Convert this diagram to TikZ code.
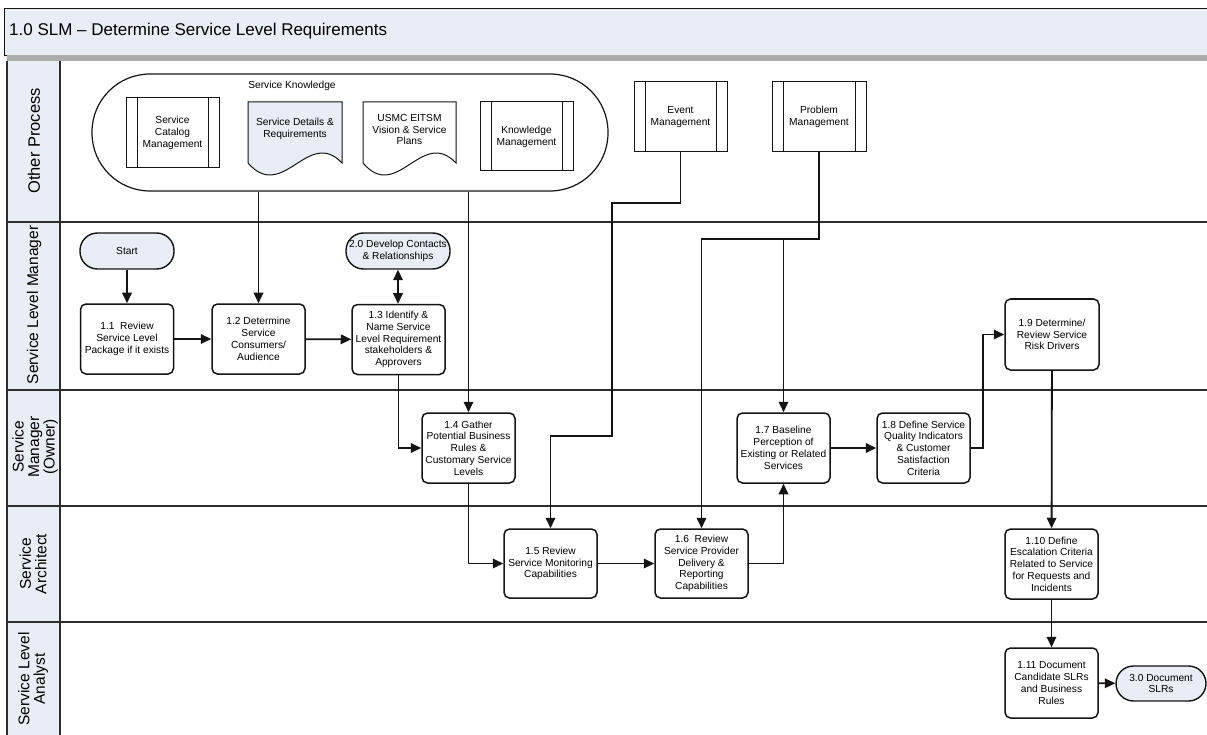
\documentclass[tikz,border=0pt]{standalone}
\usepackage{fontspec}
\setmainfont{Liberation Sans}
\usetikzlibrary{arrows.meta,calc}
\definecolor{paneblue}{RGB}{232,237,246}
\definecolor{inkline}{RGB}{20,20,20}
\definecolor{lanerulecol}{RGB}{45,45,45}

\begin{document}
\begin{tikzpicture}[x=1pt,y=-1pt,
  boxfont/.style={font=\fontsize{10.2}{11.8}\selectfont},
  task/.style={draw=inkline, line width=1.5pt, rounded corners=5.5pt, fill=white,
    align=center, inner sep=0pt, boxfont, minimum width=93pt, minimum height=70pt},
  terminal/.style={draw=inkline, line width=1.4pt, rounded corners=17.5pt, fill=paneblue,
    align=center, inner sep=0pt, boxfont, minimum height=36pt},
  procbox/.style={draw=inkline, line width=1pt, fill=white, align=center, inner sep=0pt,
    boxfont, minimum width=93pt, minimum height=70pt,
    path picture={
      \draw[inkline, line width=1pt]
        ([xshift=11pt]path picture bounding box.north west) --
        ([xshift=11pt]path picture bounding box.south west);
      \draw[inkline, line width=1pt]
        ([xshift=-11pt]path picture bounding box.north east) --
        ([xshift=-11pt]path picture bounding box.south east);
    }},
  doctext/.style={align=center, inner sep=0pt, boxfont},
  docline/.style={draw=inkline, line width=1pt},
  flowline/.style={draw=inkline, line width=1.8pt},
  flow/.style={flowline, -{Triangle[length=10.5pt,width=9.5pt]}},
  twoway/.style={flowline, {Triangle[length=10.5pt,width=9.5pt]}-{Triangle[length=10.5pt,width=9.5pt]}},
  lanerule/.style={draw=lanerulecol, line width=2pt},
  lanelabel/.style={rotate=90, align=center, inner sep=0pt,
    font=\fontsize{15.5}{15.5}\selectfont},
]
\useasboundingbox (0,0) rectangle (1207,735);
\fill[white] (0,0) rectangle (1207,735);

% ---------- title bar ----------
\node[draw=inkline, line width=1.4pt, fill=paneblue, anchor=north west,
      minimum width=1215pt, minimum height=47pt, inner sep=0pt] (ttlbox) at (4,8) {};
\node[anchor=west, inner sep=0pt, font=\fontsize{17}{20}\selectfont] (ttl) at (9,31.5)
  {1.0 SLM – Determine Service Level Requirements};
\fill[gray!65] (7,55.5) rectangle (1207,61);

% ---------- swimlanes ----------
\fill[paneblue] (7,61) rectangle (60,735);
\draw[lanerule] (7,61) -- (7,735);
\draw[lanerule] (60,61) -- (60,735);
\draw[lanerule] (7,222) -- (1207,222);
\draw[lanerule] (7,390) -- (1207,390);
\draw[lanerule] (7,506) -- (1207,506);
\draw[lanerule] (7,622) -- (1207,622);

\node[lanelabel, font=\fontsize{16.5}{16.5}\selectfont] (laneA) at (34,141) {Other Process};
\node[lanelabel] (laneB) at (34,305) {Service Level Manager};
\node[lanelabel] (laneC) at (35,447) {Service\\Manager\\(Owner)};
\node[lanelabel] (laneD) at (33,564) {Service\\Architect};
\node[lanelabel] (laneE) at (33,679) {Service Level\\Analyst};

% ---------- service knowledge group ----------
\node[draw=inkline, line width=1.2pt, rounded corners=58pt,
      minimum width=516pt, minimum height=117pt, inner sep=0pt] (sk) at (350,132.5) {};
\node[boxfont, inner sep=0pt] (sklbl) at (292,86) {Service Knowledge};

\node[procbox] (scm) at (172.5,133) {Service\\Catalog\\Management};

\draw[docline, fill=paneblue] (248,102) -- (342,102) -- (342,163)
  .. controls (308,127) and (283,203) .. (248,163) -- cycle;
\node[doctext] (sdr) at (295,128.5) {Service Details \&\\Requirements};

\draw[docline, fill=white] (363,102) -- (456,102) -- (456,163)
  .. controls (422,127) and (397,203) .. (363,163) -- cycle;
\node[doctext] (usmc) at (409.5,129.5) {USMC EITSM\\Vision \& Service\\Plans};

\node[procbox, minimum height=69pt] (km) at (526.5,136.5) {Knowledge\\Management};

\node[procbox] (ev) at (680.5,117) {Event\\Management};
\node[procbox, minimum width=94pt] (pm) at (819,117) {Problem\\Management};

% ---------- process steps ----------
\node[terminal, minimum width=94pt] (start) at (127,251) {Start};
\node[terminal, minimum width=104pt] (n20) at (398,251) {2.0 Develop Contacts\\\& Relationships};

\node[task] (n11) at (127,339) {1.1\ \ Review\\Service Level\\Package if it exists};
\node[task] (n12) at (258.5,339) {1.2 Determine\\Service\\Consumers/\\Audience};
\node[task] (n13) at (398.5,339.5) {1.3 Identify \&\\Name Service\\Level Requirement\\stakeholders \&\\Approvers};
\node[task] (n14) at (468.5,448) {1.4 Gather\\Potential Business\\Rules \&\\Customary Service\\Levels};
\node[task, minimum height=69pt] (n15) at (550.5,563.5) {1.5 Review\\Service Monitoring\\Capabilities};
\node[task, minimum height=69pt] (n16) at (701.5,563.5) {1.6\ \ Review\\Service Provider\\Delivery \&\\Reporting\\Capabilities};
\node[task] (n17) at (783.5,448) {1.7 Baseline\\Perception of\\Existing or Related\\Services};
\node[task] (n18) at (923.5,448) {1.8 Define Service\\Quality Indicators\\\& Customer\\Satisfaction\\Criteria};
\node[task, minimum width=94pt, minimum height=71pt] (n19) at (1052,334.5) {1.9 Determine/\\Review Service\\Risk Drivers};
\node[task] (n110) at (1051.5,564) {1.10 Define\\Escalation Criteria\\Related to Service\\for Requests and\\Incidents};
\node[task] (n111) at (1051.5,683) {1.11 Document\\Candidate SLRs\\and Business\\Rules};
\node[terminal, minimum width=90pt, minimum height=35pt] (n30) at (1161,683.5) {3.0 Document\\SLRs};

% ---------- connectors ----------
\draw[flow] (start) -- (n11);
\draw[flow] (n11) -- (n12);
\draw[flow] (n12) -- (n13);
\draw[twoway] (n20.south) -- (n20.south |- n13.north);
\draw[flow] (sk.south -| n12.north) -- (n12.north);
\draw[flow] (sk.south -| n14.north) -- (n14.north);
\draw[flow] (n13.south) |- (n14.west);
\draw[flow] (n14.south) |- (n15.west);
\draw[flow] (n15) -- (n16);
\draw[flow] (n16.east) -| (n17.south);
\draw[flow] (n17) -- (n18);
\draw[flow] (n18.east) -- ++(12,0) |- (n19.west);
\draw[flow] (n19) -- (n110);
\draw[flow] (n110) -- (n111);
\draw[flow] (n111) -- (n30);

% event management feed
\coordinate (evA) at (612,203);
\coordinate (evB) at (612,436);
\draw[flow] (ev.south) |- (evA) -- (evB) -| (n15.north);

% problem management feed, splitting to 1.6 and 1.7
\coordinate (pmJ) at (783.5,239);
\draw[flowline] (pm.south) |- (pmJ);
\draw[flow] (pmJ) -- (n17.north);
\draw[flow] (pmJ) -| (n16.north);
\end{tikzpicture}
\end{document}
